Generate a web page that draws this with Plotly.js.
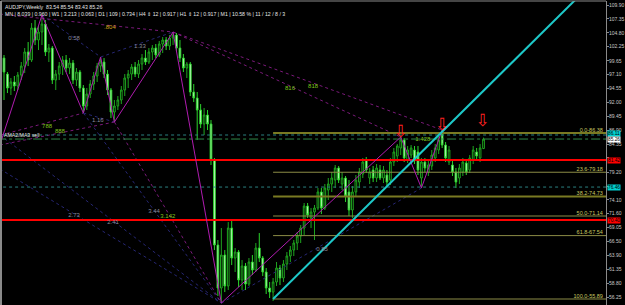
<!DOCTYPE html>
<html><head><meta charset="utf-8">
<script src="https://cdn.plot.ly/plotly-3.0.1.min.js"></script>
<style>html,body{margin:0;padding:0;background:#000;overflow:hidden}#chart{width:625px;height:305px}</style>
</head><body><div id="chart"></div>
<script>
// ---- weekly AUDJPY candles (week index) ----
const weeks = [0,1,2,3,4,5,6,7,8,9,10,11,12,13,14,15,16,17,18,19,20,21,22,23,24,25,26,27,28,29,30,31,32,33,34,35,36,37,38,39,40,41,42,43,44,45,46,47,48,49,50,51,52,53,54,55,56,57,58,59,60,61,62,63,64,65,66,67,68,69,70,71,72,73,74,75,76,77,78,79,80,81,82,83,84,85,86,87,88,89,90,91,92,93,94,95,96,97,98,99,100,101,102,103,104,105,106,107,108,109,110,111,112,113,114,115,116,117,118,119,120,121,122,123,124,125,126,127,128,129,130,131,132,133,134,135,136,137,138,139];
const openP = [100.16,97.22,94.65,95.76,95.02,97.04,98.69,101.27,99.80,105.68,
103.47,104.94,106.41,101.27,102.00,96.12,97.22,98.69,99.80,98.33,
99.25,96.12,97.59,94.65,91.35,93.55,95.39,96.86,98.69,99.43,
97.22,94.29,90.24,91.35,92.45,94.29,96.49,97.22,98.51,97.22,
99.06,100.16,99.43,101.27,102.00,100.72,102.74,103.47,102.37,103.84,
104.39,102.00,100.16,98.33,99.06,93.92,92.82,90.61,88.04,89.69,
88.04,81.42,65.81,57.91,63.97,58.28,68.93,63.42,64.52,59.38,
61.95,58.64,62.69,61.22,65.26,63.42,60.85,57.91,57.17,59.01,
61.58,59.75,62.32,63.79,64.89,66.18,67.46,68.93,72.97,70.77,
71.87,72.61,75.55,72.61,75.91,77.02,77.75,79.96,77.02,78.12,
75.55,72.24,75.55,77.38,78.85,81.42,78.12,79.59,78.12,79.59,
78.12,78.67,77.75,81.06,82.16,83.63,85.10,81.42,82.34,83.26,
82.90,78.12,81.06,79.22,80.32,81.79,83.26,86.20,84.18,81.06,
80.51,79.22,78.12,79.22,80.87,79.59,81.42,82.90,81.79,83.54];
const highP = [100.72,97.59,96.49,96.86,97.59,99.43,102.00,103.10,106.59,107.15,
106.04,108.06,107.15,102.74,102.37,97.96,99.43,100.53,100.72,100.16,
99.80,98.33,97.96,95.20,94.65,96.12,97.59,99.25,100.35,100.16,
97.96,94.65,92.45,93.18,95.02,97.22,97.96,99.06,99.43,99.80,
100.90,101.63,102.00,102.55,102.74,103.29,104.02,104.02,104.39,104.94,
104.76,103.47,100.90,99.43,99.43,95.39,93.92,91.71,90.98,90.61,
88.77,81.79,66.73,68.93,64.89,70.03,70.40,65.26,64.89,63.05,
62.50,63.42,63.97,66.18,68.01,63.79,61.58,59.01,59.75,62.69,
62.13,63.05,64.52,65.63,66.73,68.20,69.48,73.53,73.53,72.61,
73.16,76.28,76.28,77.02,78.12,79.22,80.51,80.32,79.22,78.49,
77.75,76.65,78.67,79.96,81.79,81.98,79.96,80.32,80.69,80.51,
80.32,79.59,81.79,83.63,84.36,85.65,85.47,84.00,84.18,84.00,
84.00,81.79,81.79,81.42,83.26,84.36,85.83,86.94,84.73,84.00,
81.42,79.96,80.69,81.79,81.42,82.34,84.00,83.63,84.36,85.54];
const lowP = [92.45,93.73,93.37,94.10,94.29,96.12,97.41,98.69,99.43,102.55,
101.63,102.55,100.53,99.43,95.39,94.29,96.12,97.04,97.59,97.22,
95.39,95.02,93.92,90.06,90.61,92.82,94.29,95.76,97.59,96.49,
93.37,89.14,88.41,90.61,91.71,93.18,94.65,96.12,96.67,96.49,
97.96,98.88,99.06,99.80,100.16,100.35,101.08,101.63,101.63,102.55,
101.27,99.43,97.59,96.49,93.18,92.08,85.10,87.30,86.02,86.94,
80.51,64.89,56.44,55.15,57.17,57.54,62.13,60.85,58.09,57.54,
57.54,58.28,60.30,60.85,62.69,60.11,56.81,56.07,55.52,58.28,
58.46,59.01,61.22,62.69,63.79,64.89,66.18,67.65,70.77,68.93,
66.73,72.24,71.50,72.24,74.08,75.55,76.28,77.20,75.91,73.71,
71.14,70.77,74.81,76.28,78.12,79.04,77.02,77.38,77.38,77.75,
77.20,76.65,76.83,80.32,81.06,82.34,81.06,80.87,81.79,80.69,
78.67,76.28,79.22,78.49,79.59,81.06,82.53,83.63,81.06,80.51,
78.49,76.28,77.02,78.49,78.67,79.04,80.69,81.42,81.06,83.43];
const closeP = [97.59,94.65,95.76,95.02,97.04,98.69,101.27,99.80,105.68,103.47,
104.94,106.41,101.27,102.00,96.12,97.22,98.69,99.80,98.33,99.25,
96.12,97.59,94.65,91.35,93.55,95.39,96.86,98.69,99.43,97.22,
94.29,90.24,91.35,92.45,94.29,96.49,97.22,98.51,97.22,99.06,
100.16,99.43,101.27,102.00,100.72,102.74,103.47,102.37,103.84,104.39,
102.00,100.16,98.33,99.06,93.92,92.82,90.61,88.04,89.69,88.04,
81.42,65.81,57.91,63.97,58.28,68.93,63.42,64.52,59.38,61.95,
58.64,62.69,61.22,65.26,63.42,60.85,57.91,57.17,59.01,61.58,
59.75,62.32,63.79,64.89,66.18,67.46,68.93,72.97,71.32,71.87,
72.61,75.55,72.61,76.28,77.02,78.12,79.96,77.75,78.12,74.81,
72.24,75.55,77.75,79.22,81.06,79.59,79.22,78.12,79.96,78.12,
79.59,77.38,81.06,82.90,84.00,85.10,81.79,83.26,83.63,81.42,
79.59,81.06,79.96,80.51,82.34,83.63,85.10,84.18,81.79,83.26,
79.22,77.38,79.96,81.06,79.22,81.79,83.26,82.16,83.63,85.26];

// ---- price axis labels (two are hidden behind level boxes in the reference) ----
const axisTicks = [109.90,107.35,104.80,102.25,99.65,97.10,94.55,92.00,89.45,86.90,84.35,81.80,79.20,76.65,74.10,71.60,69.05,66.50,63.90,61.35,58.80,56.25];
const axisTickText = ['109.90','107.35','104.80','102.25','99.65','97.10','94.55','92.00','89.45','86.90','84.35','','79.20','','74.10','71.60','69.05','66.50','63.90','61.35','58.80','56.25'];

// ---- horizontal levels ----
const redLevels = [81.42, 70.40];
const tealLevels = [86.02, 76.46];
const bidLevel = 85.28;
const fibStartWeek = 78;
const fibLevels = [86.38, 79.18, 74.73, 71.14, 67.54, 55.89];
const fibLabels = ['0.0-86.38','23.6-79.18','38.2-74.73','50.0-71.14','61.8-67.54','100.0-55.89'];
const fibStrong = [true,false,true,false,false,false];

// ---- zigzag & trend lines ----
const zigzagWeeks = [-1.2, 11, 23, 28, 32, 49, 63, 115, 121, 127];
const zigzagPrices = [84.18, 108.06, 90.06, 100.35, 88.41, 104.94, 55.15, 85.65, 76.28, 86.94];
const trendWeeks = [78, 166];
const trendPrices = [55.89, 111.1];
const dotMagWeeks = [[-1.2,49],[49,127],[49,115],[32,63],[-0.9,23],[-1.2,32]];
const dotMagPrices = [[108.24,104.94],[104.94,86.94],[104.94,85.65],[88.41,55.15],[86.02,90.06],[84.18,88.41]];
const dotNavyWeeks = [[11,28],[28,49],[23,32],[-1.2,63],[-1.2,63],[23,63],[63,121]];
const dotNavyPrices = [[108.06,100.35],[100.35,104.94],[90.06,88.41],[79.78,55.15],[86.02,55.15],[90.06,55.15],[55.15,76.28]];

// ---- small chart labels ----
const grayLblText = ['0.58','1.33','1.16','2.73','2.41','3.44','0.85'];
const grayLblWeek = [20.3, 39.4, 27.2, 20.3, 31.6, 43.5, 92.2];
const grayLblPrice = [103.84, 102.19, 88.77, 71.32, 70.03, 72.06, 65.07];
const greenLblText = ['3.142','1.428','788','888','816','818'];
const greenLblWeek = [47.5, 121.4, 12.5, 16.2, 82.9, 89.6];
const greenLblPrice = [71.14, 85.28, 87.67, 86.75, 94.65, 95.02];
const orangeLblText = ['.804'];
const orangeLblWeek = [30.7];
const orangeLblPrice = [105.86];
const arrowWeeks = [115, 127, 138.7];
const arrowPrices = [86.4, 87.7, 88.5];

const FONT = 'Liberation Sans, Arial, sans-serif';
const X_END = 176, X_START = -2;

function segs(xs, ys){ const X=[],Y=[]; xs.forEach((s,k)=>{X.push(s[0],s[1],null);Y.push(ys[k][0],ys[k][1],null);}); return {X,Y}; }

const traces = [];
const nv = segs(dotNavyWeeks, dotNavyPrices);
traces.push({type:'scatter',mode:'lines',x:nv.X,y:nv.Y,line:{color:'#262673',width:1,dash:'dot'},hoverinfo:'skip'});
const dm = segs(dotMagWeeks, dotMagPrices);
traces.push({type:'scatter',mode:'lines',x:dm.X,y:dm.Y,line:{color:'#7a1a7a',width:1,dash:'dot'},hoverinfo:'skip'});

traces.push({type:'candlestick',x:weeks,open:openP,high:highP,low:lowP,close:closeP,
  increasing:{line:{color:'#1fa51f',width:1},fillcolor:'#000000'},
  decreasing:{line:{color:'#2bd42b',width:1},fillcolor:'#d6ffd6'},
  whiskerwidth:0,hoverinfo:'skip'});

fibLevels.forEach((p,k)=>{
  traces.push({type:'scatter',mode:'lines',x:[fibStartWeek,X_END],y:[p,p],
    line:{color:fibStrong[k]?'#7a7a22':'#8c8c46',width:fibStrong[k]?2:1},hoverinfo:'skip'});
});
tealLevels.forEach(p=>{
  traces.push({type:'scatter',mode:'lines',x:[X_START,X_END],y:[p,p],line:{color:'#2a8080',width:1,dash:'dot'},hoverinfo:'skip'});
});
traces.push({type:'scatter',mode:'lines',x:[X_START,X_END],y:[bidLevel,bidLevel],line:{color:'#2f8a4a',width:1,dash:'dashdot'},hoverinfo:'skip'});
redLevels.forEach(p=>{
  traces.push({type:'scatter',mode:'lines',x:[X_START,X_END],y:[p,p],line:{color:'#ff0000',width:2},hoverinfo:'skip'});
});
traces.push({type:'scatter',mode:'lines',x:zigzagWeeks,y:zigzagPrices,line:{color:'#b01cb0',width:1},hoverinfo:'skip'});
traces.push({type:'scatter',mode:'lines',x:trendWeeks,y:trendPrices,line:{color:'#1ec8c8',width:2},hoverinfo:'skip'});

traces.push({type:'scatter',mode:'text',x:grayLblWeek,y:grayLblPrice,text:grayLblText,textfont:{family:FONT,size:6,color:'#8a8a9a'},hoverinfo:'skip'});
traces.push({type:'scatter',mode:'text',x:greenLblWeek,y:greenLblPrice,text:greenLblText,textfont:{family:FONT,size:6,color:'#7fc31c'},hoverinfo:'skip'});
traces.push({type:'scatter',mode:'text',x:orangeLblWeek,y:orangeLblPrice,text:orangeLblText,textfont:{family:FONT,size:6,color:'#d4a41a'},hoverinfo:'skip'});
traces.push({type:'scatter',mode:'text',x:fibLevels.map(()=>173.6),y:fibLevels,text:fibLabels,textposition:'top left',textfont:{family:FONT,size:5.5,color:'#c8c860'},hoverinfo:'skip'});
traces.push({type:'scatter',mode:'text',x:arrowWeeks,y:arrowPrices,text:arrowWeeks.map(()=>'⇩'),textfont:{family:'DejaVu Sans',size:17,color:'#ff2020'},hoverinfo:'skip'});

const annotations = [
  {xref:'paper',yref:'paper',x:0.003,y:0.998,xanchor:'left',yanchor:'top',showarrow:false,
   text:'AUDJPY,Weekly  83.54 85.54 83.43 85.26',font:{family:FONT,size:5.2,color:'#e6e6e6'}},
  {xref:'paper',yref:'paper',x:0.003,y:0.974,xanchor:'left',yanchor:'top',showarrow:false,
   text:'MN | 8.039 | 0.960 | W1 | 3.213 | 0.063 | D1 | 109 | 0.734 | H4 ⇕ 12 | 0.917 | H1 ⇕ 12 | 0.917 | M1 | 10.58 % | 11 / 12 / 8 / 3',
   font:{family:FONT,size:5.2,color:'#e6e6e6'}},
  {xref:'x',yref:'y',x:-0.6,y:86.02,xanchor:'left',yanchor:'middle',showarrow:false,
   text:'AMA2/MA3 sell',font:{family:FONT,size:5.2,color:'#e0e0e0'}}
];
const boxes = [[86.35,'86.11','#00d0d0'],[85.2,'85.26','#ffffff'],[81.42,'81.42','#ff0000'],[76.46,'76.46','#00d0d0'],[70.40,'70.40','#ff0000']];
boxes.forEach(b=>annotations.push({xref:'paper',yref:'y',x:1.0015,y:b[0],xanchor:'left',yanchor:'middle',showarrow:false,
  text:b[1],bgcolor:b[2],borderpad:0,font:{family:FONT,size:4.8,color:'#000'}}));

const layout = {
  width:625,height:305,margin:{l:1,r:19,t:1,b:0,pad:0},
  paper_bgcolor:'#000',plot_bgcolor:'#000',showlegend:false,
  xaxis:{range:[-0.87,174.5],visible:false,rangeslider:{visible:false},fixedrange:true},
  yaxis:{range:[54.79,110.64],side:'right',showgrid:false,zeroline:false,showline:true,linecolor:'#8a8a8a',linewidth:1,
    ticks:'outside',ticklen:2,tickcolor:'#8a8a8a',tickvals:axisTicks,ticktext:axisTickText,
    ticklabelstandoff:-1,tickfont:{family:FONT,size:5,color:'#c8c8c8'},fixedrange:true},
  shapes:[
    {type:'line',xref:'paper',yref:'paper',x0:0,x1:1,y0:1,y1:1,line:{color:'#8a8a8a',width:1}},
    {type:'line',xref:'paper',yref:'paper',x0:0,x1:0,y0:0,y1:1,line:{color:'#8a8a8a',width:2}}
  ],
  annotations:annotations
};
Plotly.newPlot('chart',traces,layout,{displayModeBar:false,staticPlot:true});
</script></body></html>
